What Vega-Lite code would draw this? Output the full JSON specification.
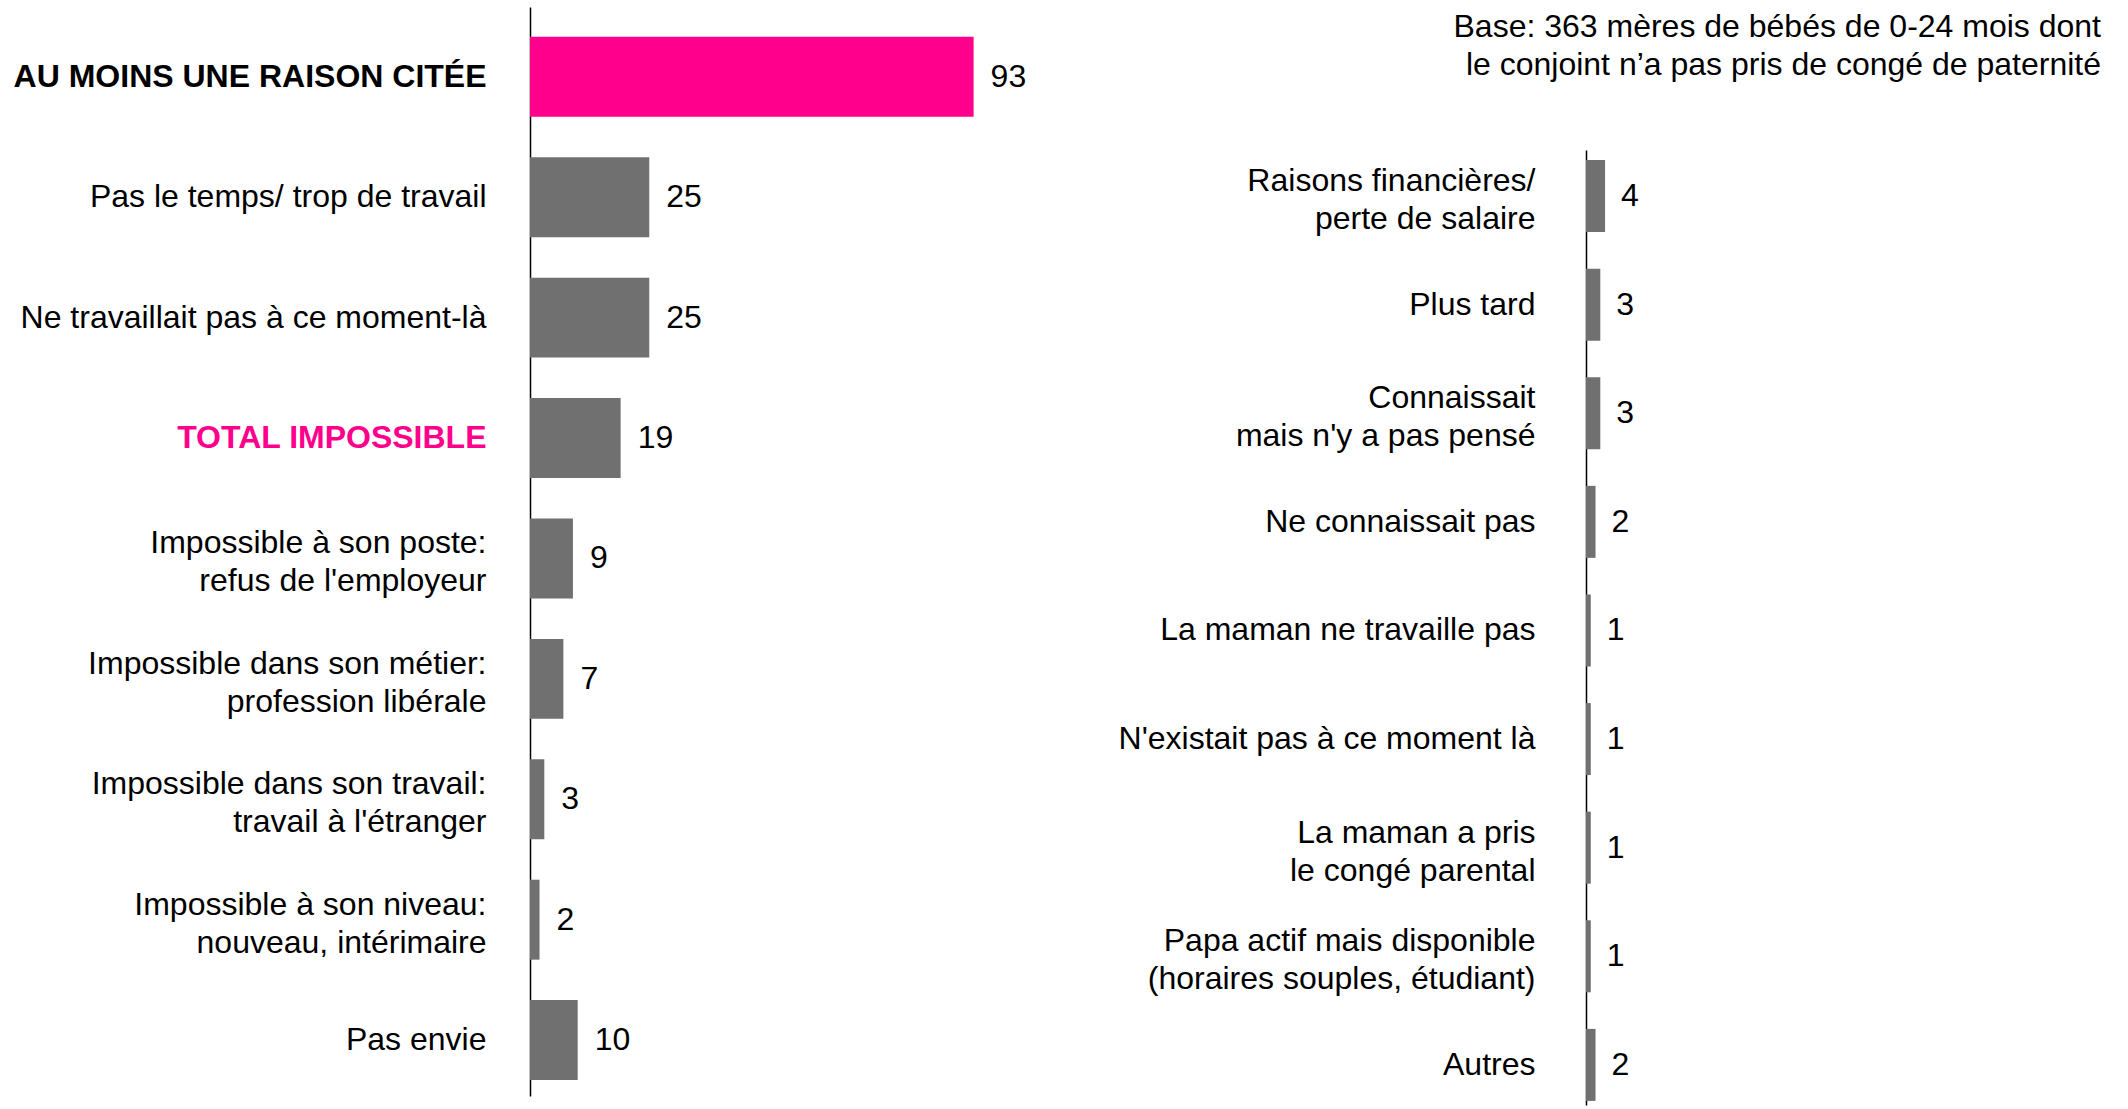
{
  "$schema": "https://vega.github.io/schema/vega-lite/v6.json",
  "background": "white",
  "padding": {"left": 13, "top": 7, "right": 29, "bottom": 4},
  "spacing": 91,
  "align": "none",
  "config": {"view": {"stroke": null}, "font": "Liberation Sans", "text": {"font": "Liberation Sans"}},
  "hconcat": [
    {
      "width": 477,
      "height": 1089,
      "data": {"values": [
        {"raison": "AU MOINS UNE RAISON CITÉE", "pct": 93, "groupe": "total"},
        {"raison": "Pas le temps/ trop de travail\u00a0", "pct": 25, "groupe": "detail"},
        {"raison": "Ne travaillait pas à ce moment-là", "pct": 25, "groupe": "detail"},
        {"raison": "TOTAL IMPOSSIBLE", "pct": 19, "groupe": "detail"},
        {"raison": "Impossible à son poste:|refus de l'employeur", "pct": 9, "groupe": "detail"},
        {"raison": "Impossible dans son métier:|profession libérale", "pct": 7, "groupe": "detail"},
        {"raison": "Impossible dans son travail:|travail à l'étranger", "pct": 3, "groupe": "detail"},
        {"raison": "Impossible à son niveau:|nouveau, intérimaire", "pct": 2, "groupe": "detail"},
        {"raison": "Pas envie", "pct": 10, "groupe": "detail"}
      ]},
      "encoding": {
        "y": {
          "field": "raison", "type": "nominal", "sort": null,
          "scale": {"paddingInner": 0.336, "paddingOuter": 0.19, "align": 0.652},
          "axis": {
            "title": null, "ticks": false, "grid": false,
            "domainColor": "#000000", "domainWidth": 1.5,
            "labelFontSize": 32, "labelFont": "Liberation Sans",
            "labelColor": {"condition": {"test": "datum.value == 'TOTAL IMPOSSIBLE'", "value": "#FF008C"}, "value": "#000000"},
            "labelFontWeight": {"condition": {"test": "datum.value == 'TOTAL IMPOSSIBLE' || datum.value == 'AU MOINS UNE RAISON CITÉE'", "value": "bold"}, "value": "normal"},
            "labelOffset": {"condition": {"test": "indexof(datum.value, '|') >= 0", "value": -15}, "value": 0},
            "labelPadding": 44, "labelLimit": 700, "labelLineHeight": 38,
            "labelExpr": "split(datum.label, '|')"
          }
        },
        "x": {"field": "pct", "type": "quantitative", "scale": {"domain": [0, 100]}, "axis": null}
      },
      "layer": [
        {
          "mark": {"type": "bar"},
          "encoding": {
            "color": {"field": "groupe", "type": "nominal", "scale": {"domain": ["total", "detail"], "range": ["#FF008C", "#707070"]}, "legend": null}
          }
        },
        {
          "mark": {"type": "text", "align": "left", "baseline": "middle", "dx": 17, "fontSize": 32, "color": "#000000"},
          "encoding": {"text": {"field": "pct", "type": "quantitative"}}
        }
      ]
    },
    {
      "width": 515,
      "height": 1098,
      "title": {
        "text": ["Base: 363 mères de bébés de 0-24 mois dont", "le conjoint n’a pas pris de congé de paternité"],
        "anchor": "end", "fontSize": 32, "fontWeight": "normal", "lineHeight": 38,
        "offset": -75, "color": "#000000", "font": "Liberation Sans"
      },
      "data": {"values": [
        {"raison": "Raisons financières/\u00a0|perte de salaire", "pct": 4},
        {"raison": "Plus tard", "pct": 3},
        {"raison": "Connaissait\u00a0|mais n'y a pas pensé", "pct": 3},
        {"raison": "Ne connaissait pas", "pct": 2},
        {"raison": "La maman ne travaille pas", "pct": 1},
        {"raison": "N'existait pas à ce moment là", "pct": 1},
        {"raison": "La maman a pris|le congé parental", "pct": 1},
        {"raison": "Papa actif mais disponible\u00a0|(horaires souples, étudiant)", "pct": 1},
        {"raison": "Autres", "pct": 2}
      ]},
      "encoding": {
        "y": {
          "field": "raison", "type": "nominal", "sort": null,
          "scale": {"range": [143, 1098], "paddingInner": 0.337, "paddingOuter": 0.065, "align": 0.71},
          "axis": {
            "title": null, "ticks": false, "grid": false,
            "domainColor": "#000000", "domainWidth": 1.5,
            "labelFontSize": 32, "labelFont": "Liberation Sans", "labelColor": "#000000",
            "labelOffset": {"condition": {"test": "indexof(datum.value, '|') >= 0", "value": -15}, "value": 0},
            "labelPadding": 51, "labelLimit": 700, "labelLineHeight": 38,
            "labelExpr": "split(datum.label, '|')"
          }
        },
        "x": {"field": "pct", "type": "quantitative", "scale": {"domain": [0, 108]}, "axis": null}
      },
      "layer": [
        {"mark": {"type": "bar", "color": "#707070"}},
        {
          "mark": {"type": "text", "align": "left", "baseline": "middle", "dx": 16, "fontSize": 32, "color": "#000000"},
          "encoding": {"text": {"field": "pct", "type": "quantitative"}}
        }
      ]
    }
  ]
}
